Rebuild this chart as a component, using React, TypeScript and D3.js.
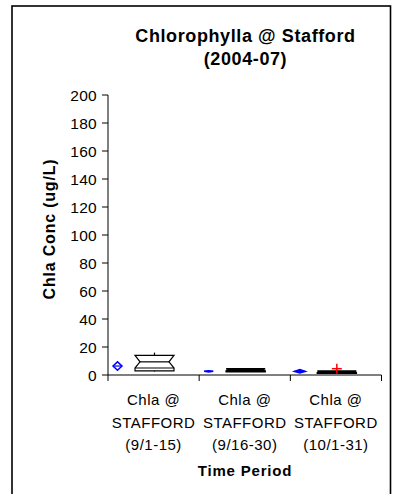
import React from "react";
import * as d3 from "d3";

const categories = ["9/1-15", "9/16-30", "10/1-31"];
const labelLines = [
  ["Chla @", "STAFFORD", "(9/1-15)"],
  ["Chla @", "STAFFORD", "(9/16-30)"],
  ["Chla @", "STAFFORD", "(10/1-31)"],
];
const yTicks = [0, 20, 40, 60, 80, 100, 120, 140, 160, 180, 200];
// box stats
const whiskerMin = [2.5, 2.3, 1.0];
const q1 = [3.0, 2.4, 1.2];
const notchLow = [5.0, 3.0, 1.6];
const median = [9.4, 3.4, 2.0];
const q3 = [14.0, 4.5, 2.8];
const whiskerMax = [16.0, 4.6, 2.9];
// mean diamonds
const means = [6.4, 2.6, 2.6];
const ciLow = [3.4, 2.2, 1.4];
const ciHigh = [9.4, 3.0, 3.9];
// outliers
const outliers: [number, number][] = [[2, 4.5]];

export default function App() {
  const W = 394, H = 494;
  const y = d3.scaleLinear().domain([0, 200]).range([375, 95]);
  const x = d3.scaleBand<string>().domain(categories).range([108, 381.5]).padding(0);
  const bw = x.bandwidth();
  const font = "Arial, 'Liberation Sans', sans-serif";

  return (
    <svg width={W} height={H} style={{ position: "absolute", left: 0, top: 0, background: "#fff" }}>
      <rect x={12} y={6} width={378.5} height={520} fill="#fff" stroke="#000" strokeWidth={1.6} />
      <text x={245.5} y={42} textAnchor="middle" fontFamily={font} fontWeight="bold" fontSize={18} letterSpacing={0.6}>
        Chlorophylla @ Stafford
      </text>
      <text x={245.5} y={65} textAnchor="middle" fontFamily={font} fontWeight="bold" fontSize={18} letterSpacing={0.6}>
        (2004-07)
      </text>
      {/* y axis */}
      <line x1={108} x2={108} y1={y(200)} y2={y(0)} stroke="#000" strokeWidth={1} />
      {yTicks.map((t) => (
        <g key={t}>
          <line x1={102} x2={108} y1={y(t)} y2={y(t)} stroke="#000" />
          <text x={97} y={y(t) + 5.5} textAnchor="end" fontFamily={font} fontSize={15.5} letterSpacing={0.3}>
            {t}
          </text>
        </g>
      ))}
      <text
        transform={`translate(55,229) rotate(-90)`}
        textAnchor="middle"
        fontFamily={font}
        fontWeight="bold"
        fontSize={16}
        letterSpacing={0.8}
      >
        Chla Conc (ug/L)
      </text>
      {/* x axis */}
      <line x1={108} x2={381.5} y1={y(0)} y2={y(0)} stroke="#000" />
      {[...categories.map((c) => x(c) as number), 381.5].map((v, i) => (
        <line key={i} x1={v} x2={v} y1={y(0)} y2={y(0) + 6} stroke="#000" />
      ))}
      {categories.map((c, i) => {
        const cx = (x(c) as number) + bw / 2;
        return (
          <text key={c} textAnchor="middle" fontFamily={font} fontSize={15} letterSpacing={0.5}>
            {labelLines[i].map((l, j) => (
              <tspan key={j} x={cx} y={405 + j * 22.5}>
                {l}
              </tspan>
            ))}
          </text>
        );
      })}
      <text x={245} y={476} textAnchor="middle" fontFamily={font} fontWeight="bold" fontSize={15} letterSpacing={0.8}>
        Time Period
      </text>
      {/* boxes */}
      {categories.map((c, i) => {
        const x0 = x(c) as number;
        const l = x0 + 27, r = x0 + 66, mid = (l + r) / 2;
        const ind = 5;
        const pts: [number, number][] = [
          [l, y(q1[i])],
          [l, y(notchLow[i])],
          [l + ind, y(median[i])],
          [l, y(q3[i])],
          [r, y(q3[i])],
          [r - ind, y(median[i])],
          [r, y(notchLow[i])],
          [r, y(q1[i])],
        ];
        const thick = i > 0;
        return (
          <g key={c}>
            <path
              d={d3.line()(pts) + "Z"}
              fill={thick ? "#000" : "none"}
              stroke="#000"
              strokeWidth={thick ? 1.5 : 1.2}
            />
            <line x1={l + ind} x2={r - ind} y1={y(median[i])} y2={y(median[i])} stroke="#000" strokeWidth={1.2} />
            <line x1={l} x2={r} y1={y(notchLow[i])} y2={y(notchLow[i])} stroke="#000" strokeWidth={1.2} />
            <line x1={mid} x2={mid} y1={y(whiskerMax[i])} y2={y(q3[i])} stroke="#000" strokeWidth={1.2} />
            <line x1={mid} x2={mid} y1={y(q1[i])} y2={y(whiskerMin[i])} stroke="#000" strokeWidth={1.2} />
          </g>
        );
      })}
      {/* mean diamonds */}
      {categories.map((c, i) => {
        const cx = (x(c) as number) + 9.5;
        const hw = i === 2 ? 5.5 : 4.5;
        const pts: [number, number][] = [
          [cx - hw, y(means[i])],
          [cx, y(ciHigh[i])],
          [cx + hw, y(means[i])],
          [cx, y(ciLow[i])],
        ];
        return (
          <g key={c}>
            <path d={d3.line()(pts) + "Z"} fill={i > 0 ? "#0000ff" : "none"} stroke="#0000ff" strokeWidth={1.5} />
            <line x1={cx - hw} x2={cx + hw} y1={y(means[i])} y2={y(means[i])} stroke="#0000ff" strokeWidth={1.2} />
          </g>
        );
      })}
      {/* outliers */}
      {outliers.map(([ci, v], k) => {
        const cx = (x(categories[ci]) as number) + 46.5;
        return (
          <g key={k} stroke="#ff0000" strokeWidth={1.5}>
            <line x1={cx - 5} x2={cx + 5} y1={y(v)} y2={y(v)} />
            <line x1={cx} x2={cx} y1={y(v) - 5} y2={y(v) + 5} />
          </g>
        );
      })}
    </svg>
  );
}
